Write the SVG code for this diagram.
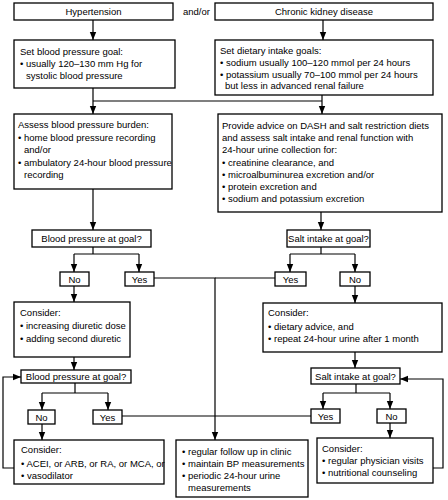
<svg xmlns="http://www.w3.org/2000/svg" width="448" height="500" viewBox="0 0 448 500">
<style>
.box{fill:#fff;stroke:#000;stroke-width:1.3}
.t{font-family:"Liberation Sans",Arial,sans-serif;font-size:9.5px;fill:#000}
.c{text-anchor:middle}
.ln{fill:none;stroke:#000;stroke-width:1.2}
.ar{marker-end:url(#ah)}
</style>
<defs>
<marker id="ah" markerUnits="userSpaceOnUse" markerWidth="8" markerHeight="8" viewBox="0 0 8 8" refX="8" refY="4" orient="auto">
<path d="M0,0.8 L8,4 L0,7.2 z" fill="#000"/>
</marker>
</defs>
<rect width="448" height="500" fill="#fff"/>
<g id="connectors">
<path class="ln ar" d="M93,20 V40"/>
<path class="ln ar" d="M323,20 V40"/>
<path class="ln ar" d="M93,88 V114"/>
<path class="ln" d="M93,101 H322"/>
<path class="ln ar" d="M322,95 V114"/>
<path class="ln ar" d="M93,189 V230"/>
<path class="ln" d="M93,247 V254 M74,254 H139"/>
<path class="ln ar" d="M74,254 V272"/>
<path class="ln ar" d="M139,254 V272"/>
<path class="ln ar" d="M321,212 V230"/>
<path class="ln" d="M321,247 V254 M290,254 H355"/>
<path class="ln ar" d="M290,254 V272"/>
<path class="ln ar" d="M355,254 V272"/>
<path class="ln ar" d="M154,278 H215 V440"/>
<path class="ln" d="M275,278 H215"/>
<path class="ln ar" d="M74,286 V302"/>
<path class="ln ar" d="M74,357 V370"/>
<path class="ln" d="M75,383 V393 M42,393 H108"/>
<path class="ln ar" d="M42,393 V410"/>
<path class="ln ar" d="M108,393 V410"/>
<path class="ln ar" d="M42,424 V440"/>
<path class="ln" d="M122,416 H215"/>
<path class="ln ar" d="M14,468 H3 V377 H21"/>
<path class="ln ar" d="M355,286 V303"/>
<path class="ln ar" d="M355,352 V368"/>
<path class="ln" d="M356,384 V393 M323,393 H390"/>
<path class="ln ar" d="M323,393 V409"/>
<path class="ln ar" d="M390,393 V409"/>
<path class="ln" d="M311,416 H215"/>
<path class="ln ar" d="M390,423 V438"/>
<path class="ln ar" d="M433,468 H443 V379 H400"/>
</g>
<g id="n-hyp"><rect class="box" x="14" y="3" width="159" height="17"/><text class="t c" x="93.5" y="15">Hypertension</text></g>
<g id="l-andor"><text class="t" x="183" y="15">and/or</text></g>
<g id="n-ckd"><rect class="box" x="215" y="3" width="218" height="17"/><text class="t c" x="324" y="15">Chronic kidney disease</text></g>
<g id="n-bpgoal"><rect class="box" x="14" y="40" width="161" height="48"/>
<text class="t" x="20" y="55">Set blood pressure goal:</text>
<text class="t" x="20" y="67">• usually 120–130 mm Hg for</text>
<text class="t" x="26" y="79">systolic blood pressure</text></g>
<g id="n-diet"><rect class="box" x="215" y="40" width="218" height="55"/>
<text class="t" x="220" y="54">Set dietary intake goals:</text>
<text class="t" x="220" y="66">• sodium usually 100–120 mmol per 24 hours</text>
<text class="t" x="220" y="78">• potassium usually 70–100 mmol per 24 hours</text>
<text class="t" x="225" y="89">but less in advanced renal failure</text></g>
<g id="n-assess"><rect class="box" x="14" y="114" width="158" height="75"/>
<text class="t" x="18" y="128">Assess blood pressure burden:</text>
<text class="t" x="18" y="141">• home blood pressure recording</text>
<text class="t" x="24" y="153">and/or</text>
<text class="t" x="18" y="166">• ambulatory 24-hour blood pressure</text>
<text class="t" x="24" y="178">recording</text></g>
<g id="n-provide"><rect class="box" x="218" y="114" width="224" height="98"/>
<text class="t" x="222" y="129">Provide advice on DASH and salt restriction diets</text>
<text class="t" x="222" y="141">and assess salt intake and renal function with</text>
<text class="t" x="222" y="153">24-hour urine collection for:</text>
<text class="t" x="222" y="166">• creatinine clearance, and</text>
<text class="t" x="222" y="178">• microalbuminurea excretion and/or</text>
<text class="t" x="222" y="190">• protein excretion and</text>
<text class="t" x="222" y="202">• sodium and potassium excretion</text></g>
<g id="n-bpq1"><rect class="box" x="32" y="230" width="119" height="17"/><text class="t c" x="91.5" y="242">Blood pressure at goal?</text></g>
<g id="n-saltq1"><rect class="box" x="287" y="230" width="83" height="17"/><text class="t c" x="328.5" y="242">Salt intake at goal?</text></g>
<g id="n-no1"><rect class="box" x="60" y="272" width="29" height="14"/><text class="t c" x="74.5" y="283">No</text></g>
<g id="n-yes1"><rect class="box" x="125" y="272" width="29" height="14"/><text class="t c" x="139.5" y="283">Yes</text></g>
<g id="n-yes1r"><rect class="box" x="275" y="272" width="31" height="14"/><text class="t c" x="290.5" y="283">Yes</text></g>
<g id="n-no1r"><rect class="box" x="340" y="272" width="30" height="14"/><text class="t c" x="355" y="283">No</text></g>
<g id="n-cons1"><rect class="box" x="14" y="302" width="116" height="55"/>
<text class="t" x="20" y="316">Consider:</text>
<text class="t" x="20" y="329">• increasing diuretic dose</text>
<text class="t" x="20" y="342">• adding second diuretic</text></g>
<g id="n-cons1r"><rect class="box" x="263" y="303" width="179" height="49"/>
<text class="t" x="268" y="316">Consider:</text>
<text class="t" x="268" y="330">• dietary advice, and</text>
<text class="t" x="268" y="342">• repeat 24-hour urine after 1 month</text></g>
<g id="n-bpq2"><rect class="box" x="21" y="370" width="110" height="13"/><text class="t c" x="76" y="380">Blood pressure at goal?</text></g>
<g id="n-saltq2"><rect class="box" x="311" y="368" width="89" height="16"/><text class="t c" x="355.5" y="380">Salt intake at goal?</text></g>
<g id="n-no2"><rect class="box" x="28" y="410" width="27" height="14"/><text class="t c" x="41.5" y="421">No</text></g>
<g id="n-yes2"><rect class="box" x="93" y="410" width="29" height="14"/><text class="t c" x="107.5" y="421">Yes</text></g>
<g id="n-yes3"><rect class="box" x="311" y="409" width="29" height="14"/><text class="t c" x="325.5" y="420">Yes</text></g>
<g id="n-no3"><rect class="box" x="377" y="409" width="29" height="14"/><text class="t c" x="391.5" y="420">No</text></g>
<g id="n-cons2"><rect class="box" x="14" y="440" width="150" height="44"/>
<text class="t" x="21" y="453">Consider:</text>
<text class="t" x="21" y="467">• ACEI, or ARB, or RA, or MCA, or</text>
<text class="t" x="21" y="479">• vasodilator</text></g>
<g id="n-center"><rect class="box" x="176" y="440" width="132" height="57"/>
<text class="t" x="182" y="455">• regular follow up in clinic</text>
<text class="t" x="182" y="467">• maintain BP measurements</text>
<text class="t" x="182" y="479">• periodic 24-hour urine</text>
<text class="t" x="188" y="491">measurements</text></g>
<g id="n-cons3"><rect class="box" x="317" y="438" width="116" height="45"/>
<text class="t" x="322" y="452">Consider:</text>
<text class="t" x="322" y="464">• regular physician visits</text>
<text class="t" x="322" y="476">• nutritional counseling</text></g>
</svg>
